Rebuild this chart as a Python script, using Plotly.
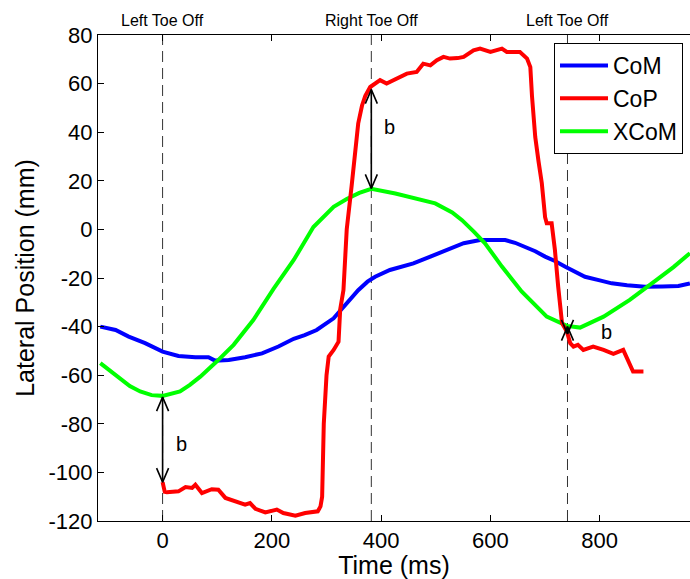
import plotly.graph_objects as go

# ---------------- data ----------------
com_x = [-114, -86, -62, -32, 0, 29, 60, 84, 96, 121, 151, 182, 212, 240, 260, 282, 313, 334, 358, 375,
         389, 416, 459, 490, 520, 551, 581, 610, 627, 645, 663, 682, 700, 718, 737, 755, 773, 800, 822,
         850, 883, 915, 944, 965]
com_y = [-40, -41.4, -44.1, -46.8, -50.3, -52.1, -52.6, -52.6, -54, -53.7, -52.6, -51, -48.2, -45, -43.5,
         -41.4, -36.6, -31, -25, -21.5, -19.5, -16.7, -14, -11.2, -8.5, -5.7, -4.4, -4.2, -4.4, -5.5, -7.1,
         -9, -11.2, -13, -15.4, -17.5, -19.5, -21, -22.2, -23, -23.6, -23.5, -23.3, -22.2]

xcom_x = [-114, -95, -77, -60, -41, -20, 0, 32, 50, 69, 99, 130, 166, 203, 240, 276, 313, 337, 360, 382,
          426, 470, 499, 530, 548, 570, 590, 621, 657, 703, 740, 764, 807, 855, 883, 904, 935, 965]
xcom_y = [-55, -58.5, -61.9, -64.5, -66.7, -68.2, -68.5, -66.7, -64, -60.6, -54.4, -47.5, -37.3, -24.5,
          -12.6, 1, 9.3, 12.5, 15, 16.7, 14.8, 12.5, 10.7, 7, 3.8, -1, -5.7, -15.3, -25.5, -35.9, -39.7,
          -40.4, -35.9, -29, -24.5, -20.8, -15.5, -9.8]

cop_x = [0, 4, 8, 29, 42, 54, 60, 66, 72, 90, 102, 115, 133, 151, 160, 170, 188, 200, 209, 221, 243, 261,
         275, 284, 289, 292, 295, 300, 304, 313, 322, 325, 331, 337, 346, 352, 358, 365, 371, 380, 390, 398,
         410, 422, 435, 447, 465, 477, 490, 502, 514, 526, 540, 551, 569, 581, 600, 621, 630, 654, 667, 673,
         676, 682, 688, 694, 700, 703, 712, 718, 724, 731, 740, 746, 752, 760, 770, 788, 807, 825, 843, 861,
         880]
cop_y = [-104, -108, -108.2, -107.8, -106, -106.4, -105.1, -107, -108.5, -106.9, -107.1, -110.5, -112,
         -113.3, -112.6, -115, -116.5, -116, -115.3, -116.7, -117.8, -116.7, -116.5, -116, -114, -110,
         -80, -60, -52.3, -49.6, -46.2, -33, -25, 0, 18, 30, 43.6, 51, 55, 58.6, 60, 61.4, 60, 61.4, 63,
         64.1, 64.8, 68.2, 67.5, 69.6, 71, 70.3, 70.5, 71, 73.7, 74.4, 73, 74.4, 73, 73, 70.3, 66.8, 55,
         38, 28, 19, 5, 2.5, 2.5, -8.5, -23.6, -38.6, -42.1, -46.8, -48.2, -47.5, -49.6, -48.2, -49.6,
         -51.2, -49.6, -58.5, -58.5]

x_ticks = [0, 200, 400, 600, 800]
y_ticks = [-120, -100, -80, -60, -40, -20, 0, 20, 40, 60, 80]

event_times = [0, 382, 741]
event_labels = ["Left Toe Off", "Right Toe Off", "Left Toe Off"]

# margin arrows "b": (from XCoM value, to CoP value) at each event
arrow_from = [-69, 16.9, -40]
arrow_to = [-104, 57.5, -43]

# ---------------- layout constants ----------------
W, H = 690, 579
ML, MR, MT, MB = 98, 0, 35, 58
XR = [-118.2, 965.2]
YR = [-120, 80]
plot_w = W - ML - MR
plot_h = H - MT - MB
px_per_x = plot_w / (XR[1] - XR[0])
px_per_y = plot_h / (YR[1] - YR[0])

FONT = "Liberation Sans, Arial, sans-serif"

fig = go.Figure()

fig.add_trace(go.Scatter(x=com_x, y=com_y, mode="lines", name="CoM",
                         line=dict(color="#0000FF", width=4), legendrank=1))
fig.add_trace(go.Scatter(x=xcom_x, y=xcom_y, mode="lines", name="XCoM",
                         line=dict(color="#00FF00", width=4), legendrank=3))
fig.add_trace(go.Scatter(x=cop_x, y=cop_y, mode="lines", name="CoP",
                         line=dict(color="#FF0000", width=4), legendrank=2))

# double headed arrows with open V heads
head_len = 14 / px_per_y
head_hw = 6 / px_per_x
label_shift = [(11, -4), (11, 12), (32, -2)]
for t, a, b, (sx, sy) in zip(event_times, arrow_from, arrow_to, label_shift):
    xs = [t, t, None]
    ys = [a, b, None]
    for end, other in ((a, b), (b, a)):
        d = 1 if end > other else -1
        xs += [t - head_hw, t, t + head_hw, None]
        ys += [end - d * head_len, end, end - d * head_len, None]
    fig.add_trace(go.Scatter(x=xs, y=ys, mode="lines", showlegend=False, hoverinfo="skip",
                             line=dict(color="black", width=1.6)))
    fig.add_annotation(x=t, y=(a + b) / 2, text="b", showarrow=False, xanchor="left",
                       xshift=sx, yshift=sy, font=dict(family=FONT, size=20, color="black"))

for t, lab in zip(event_times, event_labels):
    fig.add_shape(type="line", x0=t, x1=t, y0=0, y1=1, xref="x", yref="paper",
                  line=dict(color="#333333", width=1, dash="11px,6px"), layer="below")
    fig.add_annotation(x=t, y=1, xref="x", yref="paper", yanchor="bottom", yshift=4,
                       text=lab, showarrow=False, font=dict(family=FONT, size=16, color="black"))

axis_common = dict(showline=True, linecolor="black", linewidth=1, ticks="inside", ticklen=6,
                   tickcolor="black", tickwidth=1, showgrid=False, zeroline=False, automargin=False,
                   tickfont=dict(family=FONT, size=22, color="black"))

fig.update_layout(
    width=W, height=H,
    margin=dict(l=ML, r=MR, t=MT, b=MB, autoexpand=False),
    paper_bgcolor="white", plot_bgcolor="white",
    font=dict(family=FONT, color="black"),
    xaxis=dict(range=XR, tickvals=x_ticks, ticktext=[str(v) for v in x_ticks], mirror="ticks",
               title=dict(text="Time (ms)", font=dict(family=FONT, size=25), standoff=2),
               **axis_common),
    yaxis=dict(range=YR, tickvals=y_ticks, ticktext=[str(v) for v in y_ticks], mirror=False,
               title=dict(text="Lateral Position (mm)", font=dict(family=FONT, size=25), standoff=6),
               **axis_common),
    legend=dict(x=(554 - ML) / plot_w, y=1 - (43 - MT) / plot_h, xanchor="left", yanchor="top",
                bordercolor="black", borderwidth=1, bgcolor="white",
                font=dict(family=FONT, size=23, color="black"), itemwidth=48,
                tracegroupgap=0),
    showlegend=True,
)

fig.write_html("out.html", config={"displayModeBar": False},
               post_script="document.body.style.margin='0';document.body.style.overflow='hidden';")
